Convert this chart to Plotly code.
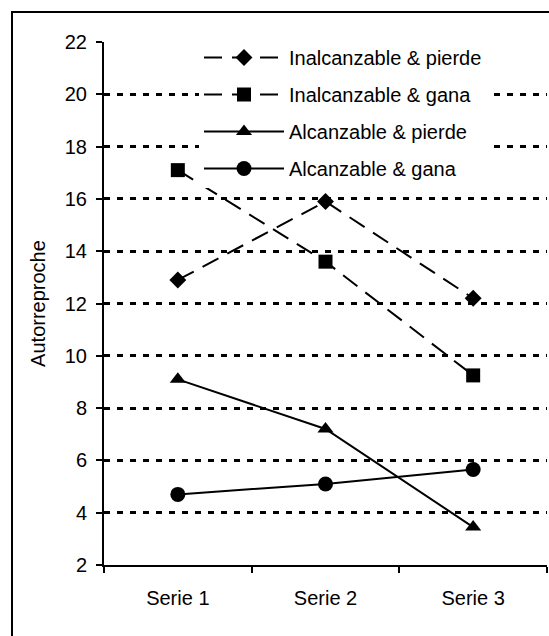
import plotly.graph_objects as go

categories = ["Serie 1", "Serie 2", "Serie 3"]
inalc_pierde = [12.9, 15.9, 12.2]
inalc_gana = [17.1, 13.6, 9.25]
alc_pierde = [9.1, 7.2, 3.45]
alc_gana = [4.7, 5.1, 5.65]
y_ticks = [2, 4, 6, 8, 10, 12, 14, 16, 18, 20, 22]

FONT = "Arial, Liberation Sans, sans-serif"
FS = 20
W, H = 549, 636
L, R, T, B = 104, 2, 42, 71
PW, PH = W - L - R, H - T - B

fig = go.Figure()
series = [
    ("Inalcanzable & pierde", inalc_pierde, "diamond", 13, "18px,10px", "g1"),
    ("Inalcanzable & gana", inalc_gana, "square", 14, "18px,10px", "g2"),
    ("Alcanzable & pierde", alc_pierde, "triangle-up", 14, "solid", "g3"),
    ("Alcanzable & gana", alc_gana, "circle", 15, "solid", "g4"),
]
for name, vals, sym, size, dash, grp in series:
    fig.add_trace(go.Scatter(
        x=categories, y=vals, name=name, mode="lines+markers",
        legendgroup=grp,
        line=dict(color="black", width=2, dash=dash),
        marker=dict(symbol=sym, size=size, color="black"),
    ))

fig.update_layout(
    width=W, height=H,
    margin=dict(l=L, r=R, t=T, b=B),
    paper_bgcolor="white", plot_bgcolor="white",
    font=dict(family=FONT, size=FS, color="black"),
    showlegend=True,
    legend=dict(
        x=(199 - L) / PW, y=1 + (T - 38) / PH,
        xanchor="left", yanchor="top",
        bgcolor="white", borderwidth=0,
        font=dict(family=FONT, size=FS, color="black"),
        tracegroupgap=8, traceorder="grouped", itemwidth=80,
    ),
    xaxis=dict(
        type="category", range=[-0.5, 2.5],
        showline=True, linecolor="black", linewidth=2,
        ticks="outside", tickson="boundaries", ticklen=6, tickwidth=2, tickcolor="black",
        showgrid=False, zeroline=False, ticklabelstandoff=14,
        tickfont=dict(family=FONT, size=FS, color="black"),
    ),
    yaxis=dict(
        range=[2, 22], tickvals=y_ticks,
        showline=True, linecolor="black", linewidth=2,
        ticks="outside", ticklen=6, tickwidth=2, tickcolor="black",
        showgrid=True, gridcolor="black", gridwidth=2.5, griddash="6px,7px",
        zeroline=False, ticklabelstandoff=5,
        tickfont=dict(family=FONT, size=FS, color="black"),
        title=dict(text="Autorreproche", font=dict(family=FONT, size=FS, color="black"), standoff=14),
    ),
    shapes=[dict(
        type="rect", xref="paper", yref="paper",
        x0=(12 - L) / PW, x1=(W + 20 - L) / PW,
        y0=-(B + 20) / PH, y1=1 + (T - 12) / PH,
        line=dict(color="black", width=2), fillcolor="rgba(0,0,0,0)", layer="below",
    )],
)

fig.write_html("out.html")
